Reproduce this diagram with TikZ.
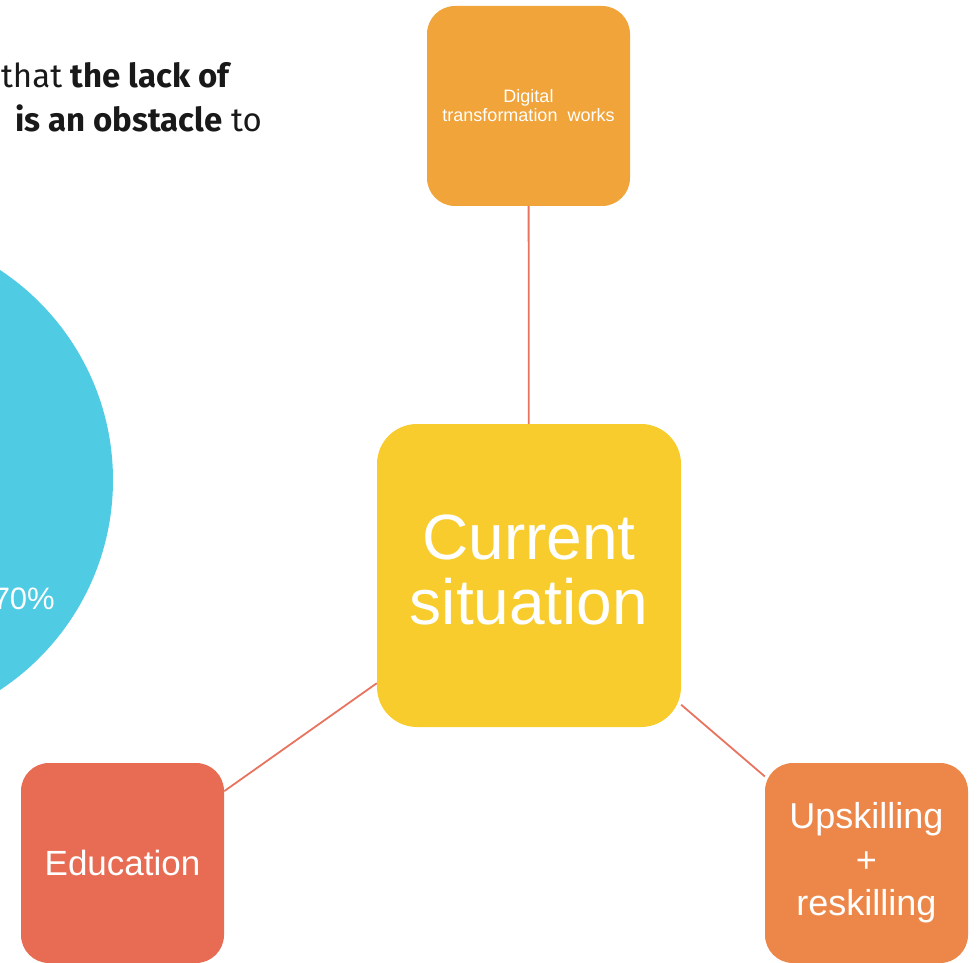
\documentclass[tikz,border=0pt]{standalone}
\usepackage{fontspec}
\setmainfont{Liberation Sans}
\newfontfamily\capfont{Fira Sans}
\usetikzlibrary{shapes}

\definecolor{digiorange}{RGB}{240,164,58}
\definecolor{curyellow}{RGB}{247,204,44}
\definecolor{edured}{RGB}{232,108,83}
\definecolor{skillorange}{RGB}{236,135,73}
\definecolor{piecyan}{RGB}{79,203,228}
\definecolor{linksalmon}{RGB}{232,115,95}

\begin{document}
\begin{tikzpicture}[x=1pt,y=-1pt]

% Define box and link style
\tikzstyle{topicbox} = [rectangle, rounded corners=28pt, inner sep=0pt,
    minimum width=203pt, minimum height=200pt, text=white, align=center]
\tikzstyle{link} = [draw=linksalmon, line width=1.8pt]

\useasboundingbox (0,0) rectangle (978,963);

% part of the pie chart on the left
\fill[piecyan] (-138.6,480) circle (251.6pt);
\node[anchor=base east, text=white, inner sep=0pt,
      font=\fontsize{31}{31}\selectfont] (share) at (55,609) {70\%};

% caption text, cut at the left border
\node[anchor=base east, inner sep=0pt, text=black!90,
      font=\capfont\fontsize{33}{33}\selectfont] (capone) at (232,88)
      {that \textbf{the lack of}};
\node[anchor=base east, inner sep=0pt, text=black!90,
      font=\capfont\fontsize{33}{33}\selectfont] (captwo) at (262,132)
      {\textbf{is an obstacle} to};

% the four boxes
\node[topicbox, fill=digiorange, font=\fontsize{18}{19}\selectfont]
    (digital) at (528.5,106) {Digital\\transformation~~works};
\node[topicbox, fill=curyellow, minimum width=304pt, minimum height=303pt,
      rounded corners=40pt, text depth=12pt, font=\fontsize{64}{65}\selectfont]
    (current) at (529,575.5) {Current\\situation};
\node[topicbox, fill=edured, font=\fontsize{35}{42}\selectfont]
    (educ) at (122.5,863) {Education};
\node[topicbox, fill=skillorange, font=\fontsize{36}{43.5}\selectfont]
    (skill) at (866.5,863) {Upskilling\\+\\reskilling};

% links
\draw[link] (digital) -- (current);
\draw[link] (current) -- (educ);
\draw[link] (current) -- (skill);

\end{tikzpicture}
\end{document}
